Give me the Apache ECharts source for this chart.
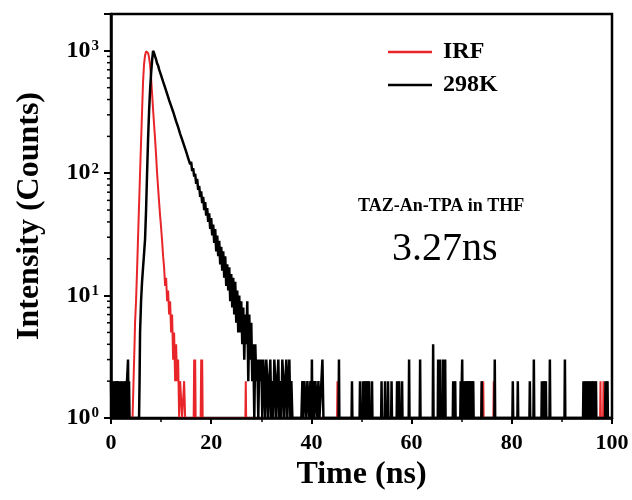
<!DOCTYPE html>
<html><head><meta charset="utf-8">
<script src="https://cdn.jsdelivr.net/npm/echarts@6/dist/echarts.min.js"></script>
<style>html,body{margin:0;padding:0;background:#fff}#c{width:632px;height:500px}</style>
</head><body><div id="c"></div>
<script>
// ---------- DATA ----------
// IRF (red)
const irfTime = [0, 4.3, 4.4, 4.5, 4.6, 4.7, 4.8, 5.0, 5.2, 5.4,
  5.6, 5.8, 6.0, 6.2, 6.4, 6.6, 6.8, 7.0, 7.2, 7.4,
  7.6, 7.8, 8.0, 8.2, 8.4, 8.6, 8.8, 9.0, 9.2, 9.4,
  9.6, 9.8, 10.0, 10.2, 10.4, 10.6, 10.8, 11.0, 11.2, 11.4,
  11.6, 11.8, 12.0, 12.2, 12.4, 12.6, 12.8, 13.0, 13.2, 13.4,
  13.6, 13.8, 14.0, 14.2, 14.6, 14.8, 16.5, 16.6, 16.7, 16.8,
  16.9, 17.9, 18.0, 18.1, 18.2, 18.3, 100];
const irfCounts = [1, 1, 1, 2, 2, 4, 6, 9, 16, 30,
  55, 100, 180, 320, 560, 780, 920, 990, 1000, 960,
  880, 770, 600, 450, 330, 250, 190, 140, 100, 76,
  58, 45, 36, 28, 21, 17, 12, 14, 9, 11,
  7, 9, 5, 7, 3, 5, 2, 4, 2, 3,
  1, 2, 2, 1, 2, 1, 1, 3, 1, 3,
  1, 1, 3, 1, 3, 1, 1];
const irfSpikeTime = [26.9, 45.2, 66.5, 74.0, 74.3, 76.4, 97.7, 98.3];
const irfSpikeCounts = [2, 2, 2, 2, 2, 2, 2, 2];

// 298K decay (black)
const plHeadTime = [0.0, 0.1, 0.2, 0.3, 0.4, 0.5, 0.6, 0.7, 0.8, 0.9,
  1.0, 1.1, 1.2, 1.3, 1.4, 1.5, 1.6, 1.7, 1.8, 1.9,
  2.0, 2.1, 2.2, 2.3, 2.4, 2.5, 2.6, 2.7, 2.8, 2.9,
  3.0, 3.1, 3.2, 3.3, 3.4, 3.5, 3.6, 3.7, 3.8];
const plHeadCounts = [2, 1, 2, 2, 1, 2, 1, 2, 2, 1,
  2, 1, 1, 2, 2, 1, 2, 1, 2, 1,
  2, 2, 1, 2, 1, 2, 1, 2, 2, 1,
  2, 1, 2, 2, 3, 1, 2, 1, 1];
const plRiseTime = [3.9, 5.6, 5.7, 5.8, 6.0, 6.2, 6.4, 6.6, 6.8, 7.0, 7.2, 7.4, 7.6, 7.8, 8.0, 8.2, 8.4];
const plRiseCounts = [1, 1, 2, 5, 9, 13, 17, 22, 29, 50, 100, 190, 320, 480, 650, 830, 1000];
const plDecayStart = 8.6, plDecayStep = 0.2;
const plDecayCounts = [960, 900, 850, 790, 760, 705, 680, 630, 610, 560,
  545, 500, 490, 445, 435, 395, 390, 355, 350, 318,
  300, 295, 265, 262, 238, 235, 210, 212, 188, 190,
  168, 170, 150, 152, 133, 138, 118, 124, 104, 110,
  94, 99, 82, 90, 73, 79, 64, 71, 57, 64,
  50, 58, 45, 52, 40, 47, 35, 43, 31, 38,
  27, 35, 23, 31, 21, 28, 18, 25, 16, 23,
  14, 21, 12, 18, 11, 17, 9, 15, 8, 14,
  7, 13, 6, 11, 5, 10, 5, 9, 4, 8,
  3, 7, 4, 9, 2, 7, 3, 6, 2, 4,
  1, 4, 2, 3, 1, 3, 2, 3, 1, 3,
  2, 1, 3, 2, 1, 2, 3, 1, 2, 1,
  3, 2, 1, 2, 3, 1, 2, 1, 3, 2,
  1, 2, 3, 1, 2, 3, 1, 2, 1, 1];
const plTailTime = [38.0, 38.2, 38.4, 38.6, 38.8, 39.0, 39.2, 39.4, 39.6, 39.8,
  40.0, 40.1, 40.2, 40.4, 40.6, 40.8, 41.0, 41.2, 41.4, 41.6,
  41.8, 42.0, 42.2, 42.4, 42.6, 100];
const plTailCounts = [1, 2, 1, 2, 2, 1, 2, 2, 1, 2,
  1, 3, 1, 2, 1, 2, 2, 1, 2, 1,
  1, 2, 3, 1, 1, 1];
const plSpikeTime = [45.5, 48.1, 49.7, 50.3, 50.7, 51.1, 51.5, 52.1, 54.0, 54.7,
  55.3, 56.0, 57.1, 57.5, 58.1, 59.5, 61.7, 64.3, 65.3, 65.7,
  66.3, 66.7, 68.3, 68.7, 69.8, 70.1, 70.5, 70.8, 71.1, 71.4,
  71.7, 72.0, 72.3, 74.0, 76.6, 80.2, 81.2, 83.6, 84.4, 86.0,
  86.4, 86.8, 87.6, 90.6, 94.3, 94.8, 95.3, 95.8, 96.3, 96.8,
  98.7, 99.1];
const plSpikeCounts = [3, 2, 2, 2, 2, 2, 2, 2, 2, 2,
  2, 2, 2, 2, 2, 3, 3, 4, 3, 3,
  3, 3, 2, 2, 2, 3, 2, 2, 2, 2,
  2, 2, 2, 2, 3, 2, 2, 2, 3, 2,
  2, 2, 3, 3, 2, 2, 2, 2, 2, 2,
  2, 2];

const xTickValues = [0, 20, 40, 60, 80, 100];
const yMinorTickValues = [2, 3, 4, 5, 6, 7, 8, 9, 20, 30, 40, 50, 60, 70, 80, 90, 200, 300, 400, 500, 600, 700, 800, 900];
const seriesNames = ['IRF', '298K'];
const sampleLabel = 'TAZ-An-TPA in THF';
const lifetimeLabel = '3.27ns';

// ---------- BUILD ----------
function pairs(ts, cs) { return ts.map((t, i) => [t, cs[i]]); }
function spikes(ts, cs) {
  const out = [];
  ts.forEach((t, i) => { out.push([t - 0.08, 1], [t, cs[i]], [t + 0.08, 1]); });
  return out;
}
const irfData = pairs(irfTime, irfCounts).concat(spikes(irfSpikeTime, irfSpikeCounts)).sort((a, b) => a[0] - b[0]);
const plDecayTime = plDecayCounts.map((_, i) => +(plDecayStart + i * plDecayStep).toFixed(2));
const plData = pairs(plHeadTime, plHeadCounts)
  .concat(pairs(plRiseTime, plRiseCounts))
  .concat(pairs(plDecayTime, plDecayCounts))
  .concat(pairs(plTailTime, plTailCounts))
  .concat(spikes(plSpikeTime, plSpikeCounts))
  .sort((a, b) => a[0] - b[0]);

const FF = "'Liberation Serif', 'Times New Roman', serif";
const chart = echarts.init(document.getElementById('c'), null, { renderer: 'canvas' });
chart.setOption({
  animation: false,
  backgroundColor: '#fff',
  grid: { left: 111, right: 20, top: 14, bottom: 82, show: true, borderColor: '#000', borderWidth: 2.5, backgroundColor: 'transparent' },
  legend: {
    data: seriesNames, orient: 'vertical', left: 388, top: 40, padding: 0,
    icon: 'rect', itemWidth: 44, itemHeight: 2.5, itemGap: 9,
    textStyle: { fontFamily: FF, fontSize: 24, fontWeight: 'bold', color: '#000', padding: [0, 0, 0, 6] }
  },
  xAxis: {
    type: 'value', min: 0, max: 100, interval: 20, z: 10,
    axisLine: { show: true, onZero: false, lineStyle: { color: '#000', width: 2.5 } },
    axisTick: { show: true, length: 6, lineStyle: { color: '#000', width: 2 } },
    minorTick: { show: true, splitNumber: 2, length: 4, lineStyle: { color: '#000', width: 1.5 } },
    splitLine: { show: false },
    axisLabel: { margin: 14, fontFamily: FF, fontSize: 22, fontWeight: 'bold', color: '#000' },
    name: 'Time (ns)', nameLocation: 'middle', nameGap: 38,
    nameTextStyle: { fontFamily: FF, fontSize: 32, fontWeight: 'bold', color: '#000' }
  },
  yAxis: {
    type: 'log', logBase: 10, min: 1, max: 2000, z: 10,
    axisLine: { show: true, lineStyle: { color: '#000', width: 2.5 } },
    axisTick: { show: true, length: 7, lineStyle: { color: '#000', width: 2 } },
    splitLine: { show: false },
    axisLabel: {
      margin: 12,
      formatter: function (v) {
        const e = Math.log10(v);
        if (Math.abs(e - Math.round(e)) > 1e-6) return '';
        return '{b|10}{s|' + Math.round(e) + '}';
      },
      rich: {
        b: { fontFamily: FF, fontSize: 24, fontWeight: 'bold', color: '#000', verticalAlign: 'bottom', lineHeight: 24 },
        s: { fontFamily: FF, fontSize: 15, fontWeight: 'bold', color: '#000', verticalAlign: 'top', lineHeight: 15, padding: [0, 0, 6, 1] }
      }
    },
    name: 'Intensity (Counts)', nameLocation: 'middle', nameGap: 65, nameRotate: 90,
    nameTextStyle: { fontFamily: FF, fontSize: 32, fontWeight: 'bold', color: '#000' }
  },
  graphic: [
    { type: 'text', left: 358, top: 197, style: { text: sampleLabel, font: "bold 18px 'Liberation Serif', serif", fill: '#000' } },
    { type: 'text', left: 392, top: 229, style: { text: lifetimeLabel, font: "40px 'Liberation Serif', serif", fill: '#000' } }
  ],
  series: [
    { name: 'IRF', type: 'line', data: irfData, showSymbol: false, symbol: 'none', color: '#e8262a',
      lineStyle: { width: 2, color: '#e8262a' }, z: 3 },
    { name: '298K', type: 'line', data: plData, showSymbol: false, symbol: 'none', color: '#000',
      lineStyle: { width: 2.5, color: '#000' }, z: 4 },
    { name: 'minorTicks', type: 'custom', data: yMinorTickValues.map(v => [0, v]), clip: false, silent: true, z: 5,
      renderItem: function (params, api) {
        const p = api.coord([api.value(0), api.value(1)]);
        return { type: 'line', shape: { x1: p[0] - 4, y1: p[1], x2: p[0], y2: p[1] }, style: { stroke: '#000', lineWidth: 1.5 } };
      } }
  ]
});
</script>
</body></html>
